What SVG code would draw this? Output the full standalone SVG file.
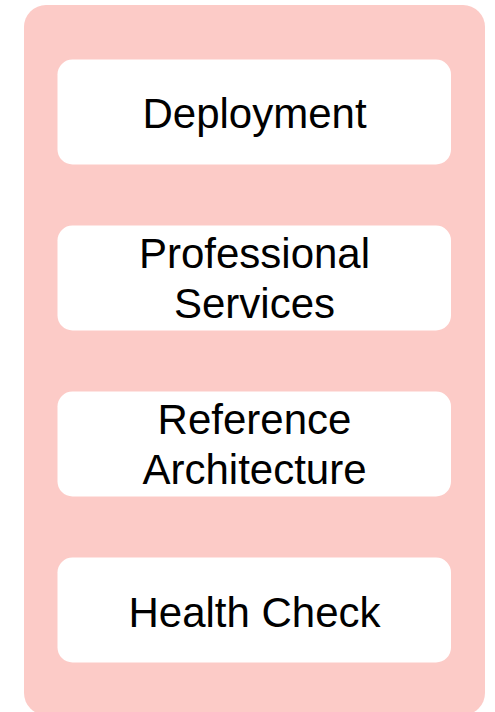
<svg xmlns="http://www.w3.org/2000/svg" width="495" height="712" viewBox="0 0 495 712">
<style>
.bg{fill:#fccbc7}
.box{fill:#ffffff}
.t{font-family:"Liberation Sans",Arial,sans-serif;font-size:42px;fill:#000000;text-anchor:middle}
</style>
<rect width="495" height="712" fill="#ffffff"/>
<g id="container"><rect class="bg" x="24" y="5" width="461" height="710" rx="22" ry="22"/></g>
<g id="connectors"></g>
<g id="deployment"><rect class="box" x="57.5" y="59.5" width="393.5" height="105" rx="15" ry="15"/><text class="t" x="254.5" y="128.3">Deployment</text></g>
<g id="professional-services"><rect class="box" x="57.5" y="225.5" width="393.5" height="105" rx="15" ry="15"/><text class="t" x="254.5" y="268.3">Professional</text><text class="t" x="254.5" y="318.3">Services</text></g>
<g id="reference-architecture"><rect class="box" x="57.5" y="391.5" width="393.5" height="105" rx="15" ry="15"/><text class="t" x="254.5" y="434.3">Reference</text><text class="t" x="254.5" y="484.3">Architecture</text></g>
<g id="health-check"><rect class="box" x="57.5" y="557.5" width="393.5" height="105" rx="15" ry="15"/><text class="t" x="254.5" y="627.3">Health Check</text></g>
</svg>
